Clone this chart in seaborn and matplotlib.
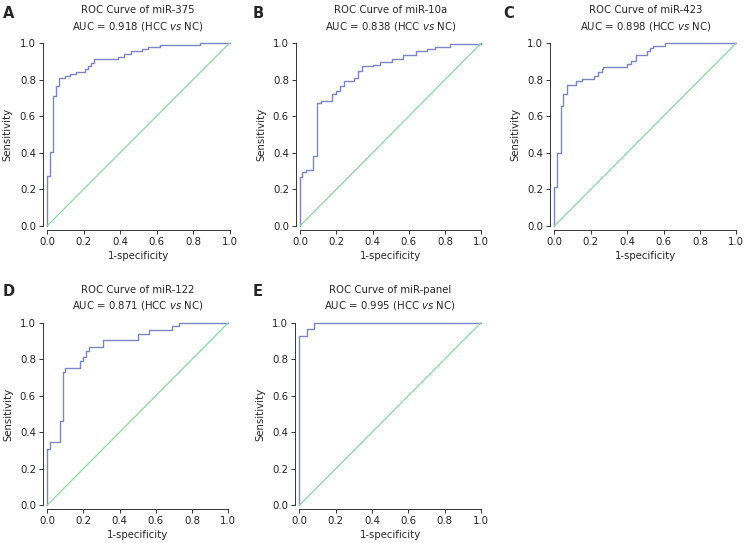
import pandas as pd
import numpy as np
import matplotlib
matplotlib.use("Agg")
import matplotlib.pyplot as plt
import seaborn as sns

sns.set_style("white")
plt.rcParams["font.family"] = ["DejaVu Sans"]

# ROC corner points (1-specificity, sensitivity)
fpr_375 = [0, 0, 0.016, 0.035, 0.049, 0.068, 0.099, 0.126, 0.16, 0.208, 0.227, 0.24, 0.26,
           0.39, 0.42, 0.46, 0.52, 0.555, 0.62, 0.84, 1.0]
tpr_375 = [0, 0.274, 0.407, 0.712, 0.766, 0.81, 0.82, 0.83, 0.84, 0.858, 0.876, 0.89, 0.91,
           0.925, 0.94, 0.956, 0.967, 0.98, 0.99, 1.0, 1.0]

fpr_10a = [0, 0, 0.013, 0.033, 0.074, 0.092, 0.114, 0.175, 0.2, 0.22, 0.24, 0.3, 0.32, 0.34,
           0.40, 0.44, 0.51, 0.57, 0.64, 0.70, 0.745, 0.83, 1.0]
tpr_10a = [0, 0.266, 0.294, 0.307, 0.383, 0.672, 0.685, 0.72, 0.74, 0.766, 0.79, 0.81, 0.845,
           0.872, 0.88, 0.894, 0.912, 0.934, 0.955, 0.967, 0.98, 0.995, 1.0]

fpr_423 = [0, 0, 0.016, 0.035, 0.05, 0.068, 0.12, 0.15, 0.22, 0.24, 0.26, 0.27, 0.40, 0.42,
           0.45, 0.51, 0.525, 0.54, 0.61, 1.0]
tpr_423 = [0, 0.215, 0.398, 0.657, 0.72, 0.772, 0.79, 0.803, 0.82, 0.84, 0.858, 0.87, 0.887,
           0.903, 0.934, 0.955, 0.97, 0.985, 1.0, 1.0]

fpr_122 = [0, 0, 0.017, 0.072, 0.09, 0.10, 0.18, 0.2, 0.215, 0.233, 0.307, 0.504, 0.565,
           0.69, 0.73, 1.0]
tpr_122 = [0, 0.31, 0.349, 0.464, 0.73, 0.75, 0.79, 0.81, 0.847, 0.865, 0.905, 0.94, 0.96,
           0.98, 1.0, 1.0]

fpr_panel = [0, 0, 0.04, 0.08, 1.0]
tpr_panel = [0, 0.927, 0.964, 1.0, 1.0]

letters = ["A", "B", "C", "D", "E"]
names = ["miR-375", "miR-10a", "miR-423", "miR-122", "miR-panel"]
aucs = ["0.918", "0.838", "0.898", "0.871", "0.995"]
curves = [(fpr_375, tpr_375), (fpr_10a, tpr_10a), (fpr_423, tpr_423),
          (fpr_122, tpr_122), (fpr_panel, tpr_panel)]

W, H = 747, 543
fig = plt.figure(figsize=(W / 100, H / 100), dpi=100)

# axes boxes in pixels: x0, x1, y_top(1.0), y_bottom(0.0)
boxes = [(47, 229.5, 43, 226), (300, 481.3, 43, 226), (554.3, 736.3, 43, 226),
         (47, 228.3, 322.7, 505.3), (299.3, 481, 322.7, 505.3)]
letter_pos = [(3, 13), (253, 13), (503, 13), (3, 292), (253, 292)]

line_col = "#7b86c6"
diag_col = "#8fd8a0"
fs = 7.3

for i, (fx, tx) in enumerate(curves):
    x0, x1, yt, yb = boxes[i]
    ax = fig.add_axes([x0 / W, (H - yb) / H, (x1 - x0) / W, (yb - yt) / H])
    df = pd.DataFrame({"fpr": fx, "tpr": tx})
    sns.lineplot(data=df, x="fpr", y="tpr", ax=ax, estimator=None, sort=False,
                 drawstyle="steps-post", color=line_col, lw=1.0, clip_on=False)
    diag = pd.DataFrame({"fpr": [0, 1], "tpr": [0, 1]})
    sns.lineplot(data=diag, x="fpr", y="tpr", ax=ax, estimator=None, sort=False,
                 color=diag_col, lw=0.9, clip_on=False)
    ax.set_xlim(0, 1)
    ax.set_ylim(0, 1)
    ticks = np.round(np.arange(0, 1.01, 0.2), 1)
    ax.set_xticks(ticks)
    ax.set_yticks(ticks)
    ax.set_xticklabels([f"{t:.1f}" for t in ticks])
    ax.set_yticklabels([f"{t:.1f}" for t in ticks])
    for s in ["top", "right"]:
        ax.spines[s].set_visible(False)
    for s in ["left", "bottom"]:
        ax.spines[s].set_position(("outward", 3))
        ax.spines[s].set_bounds(0, 1)
        ax.spines[s].set_linewidth(0.7)
        ax.spines[s].set_color("#333333")
    ax.tick_params(axis="both", direction="out", length=3, width=0.7, pad=2,
                   colors="#333333", labelcolor="#222222", labelsize=fs,
                   bottom=True, left=True)
    ax.set_xlabel("1-specificity", fontsize=fs, va="center")
    ax.set_ylabel("Sensitivity", fontsize=fs, va="center")
    ax.xaxis.set_label_coords(0.5, -0.163)
    ax.yaxis.set_label_coords(-0.215, 0.5)
    ax.set_title(f"ROC Curve of {names[i]}\nAUC = {aucs[i]} (HCC $\\it{{vs}}$ NC)",
                 fontsize=fs, pad=10, linespacing=1.45)
    lx, ly = letter_pos[i]
    fig.text(lx / W, 1 - ly / H, letters[i], fontsize=10.5, fontweight="bold",
             va="center", ha="left")

fig.savefig("out.png", dpi=100)
